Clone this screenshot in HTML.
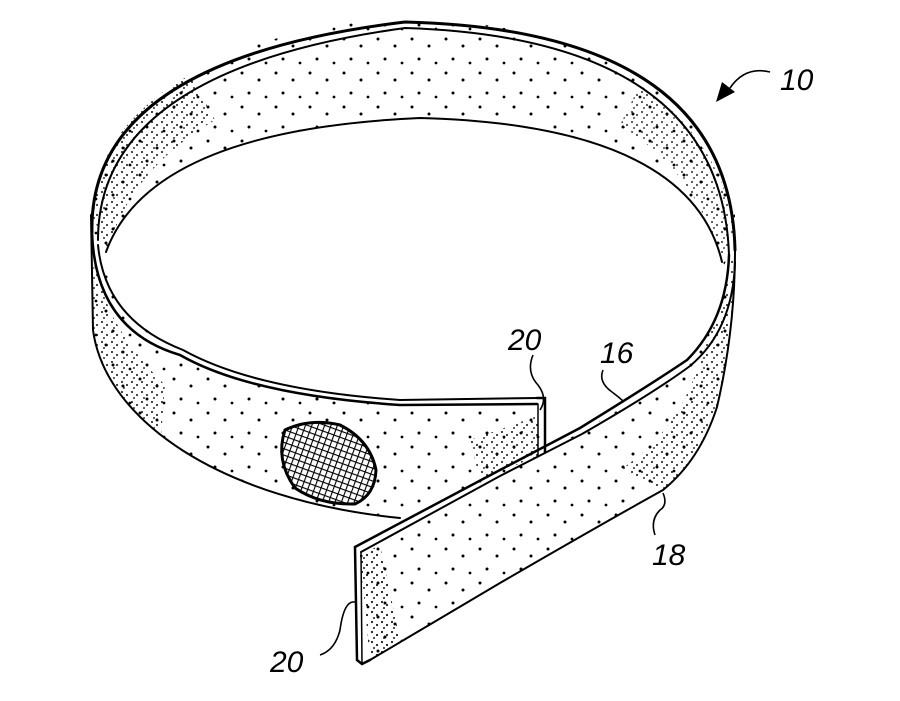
<!DOCTYPE html>
<html><head><meta charset="utf-8"><style>
html,body{margin:0;padding:0;background:#fff;width:900px;height:701px;overflow:hidden}
svg{display:block}
text{font-family:"Liberation Sans",sans-serif;font-style:italic;font-size:30px;fill:#000}
</style></head><body>
<svg width="900" height="701" viewBox="0 0 900 701" xmlns="http://www.w3.org/2000/svg">
<defs>
<pattern id="dots" width="34" height="34" patternUnits="userSpaceOnUse">
<circle cx="4" cy="5" r="1.5" fill="#000"/><circle cx="21" cy="12" r="1.5" fill="#000"/>
<circle cx="11" cy="25" r="1.5" fill="#000"/><circle cx="28" cy="29" r="1.4" fill="#000"/>
</pattern>
<pattern id="dense" width="10" height="10" patternUnits="userSpaceOnUse">
<circle cx="2" cy="2" r="1.1" fill="#000"/><circle cx="7" cy="5" r="1.1" fill="#000"/>
<circle cx="4" cy="8" r="1" fill="#000"/>
</pattern>
<pattern id="mesh" width="6" height="6" patternUnits="userSpaceOnUse" patternTransform="rotate(20)">
<rect width="6" height="6" fill="#fff"/>
<path d="M0 0H6M0 0V6" stroke="#000" stroke-width="2.2"/>
</pattern>
<clipPath id="front"><path d="M92 215 L93 330 C105 420 220 500 400 518 L545 455 L545 410 L400 407 Q250 395 180 355 Q100 305 92 215 Z"/></clipPath>
<clipPath id="ring"><ellipse cx="413" cy="215" rx="322" ry="195"/></clipPath>
</defs>

<ellipse cx="413" cy="215" rx="322" ry="195" fill="url(#dots)"/>
<g clip-path="url(#ring)">
<path d="M92 215 Q100 120 190 75 L215 120 Q130 170 108 250 Z" fill="url(#dense)" opacity="0.8"/>
<path d="M735 230 Q720 140 640 85 L620 125 Q700 175 720 262 Z" fill="url(#dense)" opacity="0.7"/>
</g>
<path d="M106 252 Q150 130 420 118 Q690 125 722 262 Q735 330 690 355 Q560 405 537 406 L400 405 Q250 395 180 355 Q110 320 106 252 Z" fill="#fff"/>
<path d="M92 215 L93 330 C105 420 220 500 400 518 L545 455 L545 410 L400 407 Q250 395 180 355 Q100 305 92 215 Z" fill="url(#dots)"/>
<g clip-path="url(#front)">
<path d="M80 240 L80 340 Q110 420 160 450 L165 385 Q110 330 100 280 Z" fill="url(#dense)" opacity="0.8"/>
<path d="M470 440 L540 415 L540 455 L480 480 Z" fill="url(#dense)" opacity="0.8"/>
</g>
<path d="M733 250 Q735 330 717 407 Q700 460 663 490 Q600 525 500 583 L370 660 L360 555 L500 475 Q600 425 680 370 Q725 320 728 262 Z" fill="url(#dots)"/>
<path d="M733 260 Q735 330 717 407 Q700 460 663 490 L620 470 Q680 430 700 360 Q725 300 728 262 Z" fill="url(#dense)" opacity="0.8"/>
<path d="M360 555 L380 545 L400 640 L370 660 Z" fill="url(#dense)" opacity="0.9"/>

<g fill="none" stroke="#000" stroke-linecap="round">
<path d="M92 232 Q88 60 405 22 Q730 30 735 250" stroke-width="3"/>
<path d="M98 240 Q98 70 405 28 Q722 38 729 255" stroke-width="2"/>
<path d="M106 252 Q150 130 420 118 Q690 125 722 262" stroke-width="2"/>
<path d="M92 232 Q95 330 180 355 Q250 395 400 405 L537 404" stroke-width="2.5"/>
<path d="M98 245 Q105 320 183 350 Q255 390 400 400 L538 398" stroke-width="2"/>
<path d="M537 398 L545 398 L545 452" stroke-width="2.5"/>
<path d="M538 404 L538 455" stroke-width="1.5"/>
<path d="M91 215 L93 330 C105 420 220 500 400 518" stroke-width="2"/>
<path d="M735 250 Q735 330 717 407 Q700 460 663 490 Q600 525 500 583 L370 660" stroke-width="2"/>
<path d="M729 255 Q727 320 687 360 Q650 385 580 428 L500 470 L355 547" stroke-width="2.5"/>
<path d="M735 262 Q733 330 690 366 Q655 392 582 434 L500 476 L361 552" stroke-width="2"/>
<path d="M355 547 L357 660 L362 664 L370 660" stroke-width="2.5"/>
<path d="M361 552 L362 664" stroke-width="1.5"/>
</g>

<path d="M285 430 Q310 418 340 425 Q370 440 376 470 Q375 495 355 504 Q320 505 295 488 Q275 460 285 430 Z" fill="url(#mesh)" stroke="#000" stroke-width="3"/>

<g fill="none" stroke="#000" stroke-width="1.6">
<path d="M770 72 Q745 66 730 88"/>
<path d="M533 355 Q526 372 538 385 Q548 398 540 410"/>
<path d="M603 370 Q598 382 612 392 Q620 398 624 402"/>
<path d="M663 493 Q668 505 660 510 Q650 520 655 535"/>
<path d="M320 655 Q335 650 340 630 Q344 600 355 602"/>
</g>
<path d="M716 102 L722 82 L735 92 Z" fill="#000"/>
<text x="780" y="90">10</text>
<text x="508" y="350">20</text>
<text x="600" y="363">16</text>
<text x="652" y="565">18</text>
<text x="270" y="672">20</text>
</svg>
</body></html>
